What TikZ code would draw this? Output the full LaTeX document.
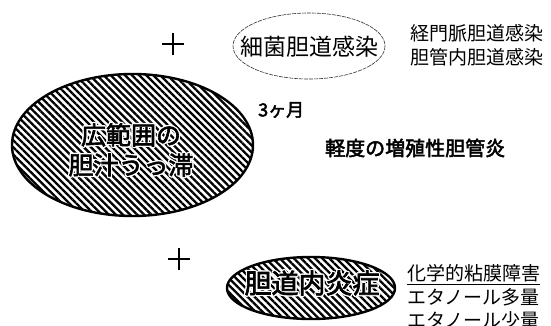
\documentclass[tikz,border=0pt]{standalone}
\usepackage{fontspec}
\newfontfamily\jp{Noto Sans CJK JP}
\newfontfamily\jpb{Noto Sans CJK JP}[FakeBold=2.5]
\usetikzlibrary{patterns.meta}
\tikzset{
  hatched/.style={draw=black, line width=2.4pt,
    pattern={Lines[angle=-45,distance=5pt,line width=2.3pt]}},
  thinell/.style={draw=black!80, line width=0.6pt, dash pattern=on 4pt off 1pt},
  plain/.style={inner sep=0pt, anchor=west, font=\jp\fontsize{19}{19}\selectfont},
  boldtxt/.style={inner sep=0pt, anchor=west, font=\jpb\fontsize{20}{20}\selectfont},
  halo/.style={inner sep=0pt, align=center, text=white},
  plus/.style={line width=2.5pt},
}
\newcommand\halowrite[3]{%
  \foreach \hx/\hy in {-1.3/0,1.3/0,0/-1.3,0/1.3,-0.95/-0.95,0.95/0.95,-0.95/0.95,0.95/-0.95}
    \node[halo, font=#2] at ([shift={(\hx pt,\hy pt)}]#1) {#3};
  \node[halo, text=black, font=#2] at (#1) {#3};
}
\begin{document}
\begin{tikzpicture}[x=1pt,y=-1pt]
\clip (0,0) rectangle (551,325);
\fill[white] (0,0) rectangle (551,325);
% big ellipse
\path[hatched] (132.5,145) ellipse [x radius=120.5, y radius=71];
\coordinate (bigc) at (131,150);
\halowrite{bigc}{\jpb\fontsize{25}{30}\selectfont}{広範囲の\\胆汁うっ滞}
% top ellipse
\path[thinell] (309,46) ellipse [x radius=76, y radius=33];
\node[inner sep=0pt, font=\jp\fontsize{23}{23}\selectfont] (topt) at (309,47) {細菌胆道感染};
% lower ellipse
\path[hatched] (311,288) ellipse [x radius=84, y radius=31];
\coordinate (lowc) at (312,283);
\halowrite{lowc}{\jpb\fontsize{27}{27}\selectfont}{胆道内炎症}
% plus signs
\coordinate (p1) at (173,44);
\coordinate (p2) at (179,259);
\draw[plus] ([xshift=-11pt]p1) -- ([xshift=11pt]p1) ([yshift=-11pt]p1) -- ([yshift=11pt]p1);
\draw[plus] ([xshift=-11pt]p2) -- ([xshift=11pt]p2) ([yshift=-11pt]p2) -- ([yshift=11pt]p2);
% texts
\node[plain] (r1) at (410,33) {経門脈胆道感染};
\node[plain] (r2) at (410,57) {胆管内胆道感染};
\node[boldtxt, font=\jpb\fontsize{18}{18}\selectfont] (m1) at (258,110) {3ヶ月};
\node[boldtxt] (m2) at (325,148) {軽度の増殖性胆管炎};
\node[plain] (l1) at (407,273) {化学的粘膜障害};
\draw[line width=0.8pt] ([yshift=-2pt]l1.south west) -- ([yshift=-2pt]l1.south east);
\node[plain] (l2) at (407,297) {エタノール多量};
\node[plain] (l3) at (407,320) {エタノール少量};
\end{tikzpicture}
\end{document}
